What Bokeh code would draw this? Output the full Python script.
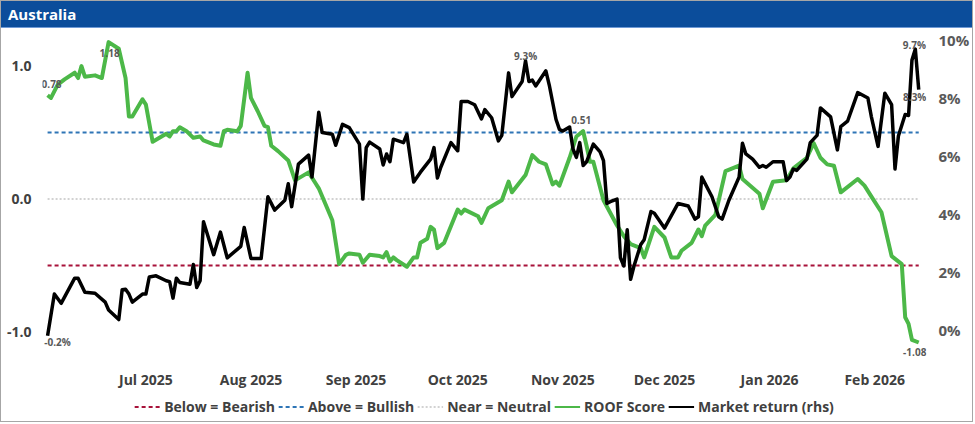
import pandas as pd
from bokeh.plotting import figure
from bokeh.models import (Range1d, LinearAxis, FixedTicker, PrintfTickFormatter,
                          DatetimeTickFormatter, Legend, LegendItem, ColumnDataSource,
                          Column, Div)
from bokeh.core.properties import value
from bokeh.embed import file_html
from bokeh.resources import INLINE

# ---------------- data ----------------
TITLE = "Australia"

roof_dates = [
    "2025-06-02", "2025-06-03", "2025-06-05", "2025-06-07", "2025-06-10", "2025-06-11",
    "2025-06-12", "2025-06-13", "2025-06-16", "2025-06-18", "2025-06-20", "2025-06-23",
    "2025-06-25", "2025-06-26", "2025-06-27", "2025-06-30", "2025-07-01", "2025-07-03",
    "2025-07-05", "2025-07-07", "2025-07-08", "2025-07-09", "2025-07-10", "2025-07-11",
    "2025-07-13", "2025-07-15", "2025-07-17", "2025-07-18", "2025-07-21", "2025-07-23",
    "2025-07-24", "2025-07-25", "2025-07-28", "2025-07-29", "2025-07-31", "2025-08-01",
    "2025-08-03", "2025-08-05", "2025-08-06", "2025-08-07", "2025-08-09", "2025-08-12",
    "2025-08-14", "2025-08-18", "2025-08-20", "2025-08-21", "2025-08-25", "2025-08-27",
    "2025-08-29", "2025-08-30", "2025-09-02", "2025-09-03", "2025-09-05", "2025-09-08",
    "2025-09-09", "2025-09-10", "2025-09-11", "2025-09-12", "2025-09-13", "2025-09-16",
    "2025-09-18", "2025-09-19", "2025-09-20", "2025-09-22", "2025-09-23", "2025-09-24",
    "2025-09-25", "2025-09-27", "2025-10-01", "2025-10-02", "2025-10-03", "2025-10-07",
    "2025-10-08", "2025-10-10", "2025-10-12", "2025-10-14", "2025-10-16", "2025-10-17",
    "2025-10-21", "2025-10-23", "2025-10-25", "2025-10-27", "2025-10-29", "2025-10-30",
    "2025-10-31", "2025-11-03", "2025-11-05", "2025-11-07", "2025-11-08", "2025-11-09",
    "2025-11-10", "2025-11-13", "2025-11-17", "2025-11-19", "2025-11-21", "2025-11-24",
    "2025-11-25", "2025-11-28", "2025-12-01", "2025-12-03", "2025-12-05", "2025-12-06",
    "2025-12-09", "2025-12-11", "2025-12-12", "2025-12-13", "2025-12-16", "2025-12-19",
    "2025-12-23", "2025-12-24", "2025-12-29", "2025-12-30", "2026-01-02", "2026-01-06",
    "2026-01-08", "2026-01-12", "2026-01-14", "2026-01-16", "2026-01-18", "2026-01-20",
    "2026-01-22", "2026-01-27", "2026-01-29", "2026-01-31", "2026-02-03", "2026-02-06",
    "2026-02-09", "2026-02-10", "2026-02-11", "2026-02-12", "2026-02-14",
]
roof_score = [
    0.78, 0.76, 0.86, 0.90, 0.95, 0.91,
    1.00, 0.92, 0.93, 0.91, 1.18, 1.13,
    0.91, 0.62, 0.62, 0.75, 0.71, 0.43,
    0.46, 0.49, 0.47, 0.51, 0.51, 0.54,
    0.51, 0.46, 0.47, 0.44, 0.41, 0.40,
    0.51, 0.52, 0.51, 0.55, 0.95, 0.76,
    0.66, 0.55, 0.54, 0.40, 0.36, 0.29,
    0.14, 0.20, 0.12, 0.08, -0.16, -0.49,
    -0.42, -0.41, -0.42, -0.48, -0.42, -0.43,
    -0.44, -0.40, -0.47, -0.44, -0.46, -0.51,
    -0.44, -0.44, -0.33, -0.30, -0.21, -0.23,
    -0.37, -0.33, -0.08, -0.11, -0.08, -0.13,
    -0.18, -0.07, -0.04, -0.01, 0.13, 0.05,
    0.18, 0.33, 0.28, 0.26, 0.11, 0.13,
    0.10, 0.31, 0.47, 0.51, 0.40, 0.28,
    0.28, -0.01, -0.20, -0.28, -0.34, -0.37,
    -0.44, -0.21, -0.29, -0.44, -0.44, -0.39,
    -0.33, -0.23, -0.28, -0.20, -0.12, 0.21,
    0.25, 0.15, 0.04, -0.07, 0.13, 0.14,
    0.23, 0.31, 0.42, 0.31, 0.26, 0.25,
    0.05, 0.15, 0.10, 0.02, -0.10, -0.43,
    -0.49, -0.89, -0.94, -1.06, -1.08,
]

mkt_dates = [
    "2025-06-02", "2025-06-04", "2025-06-06", "2025-06-10", "2025-06-11", "2025-06-13",
    "2025-06-16", "2025-06-19", "2025-06-20", "2025-06-23", "2025-06-24", "2025-06-25",
    "2025-06-26", "2025-06-27", "2025-06-30", "2025-07-01", "2025-07-02", "2025-07-04",
    "2025-07-07", "2025-07-08", "2025-07-09", "2025-07-10", "2025-07-11", "2025-07-14",
    "2025-07-15", "2025-07-16", "2025-07-17", "2025-07-18", "2025-07-21", "2025-07-23",
    "2025-07-25", "2025-07-29", "2025-07-30", "2025-08-01", "2025-08-04", "2025-08-06",
    "2025-08-08", "2025-08-11", "2025-08-12", "2025-08-13", "2025-08-15", "2025-08-18",
    "2025-08-19", "2025-08-21", "2025-08-22", "2025-08-25", "2025-08-26", "2025-08-28",
    "2025-08-30", "2025-09-02", "2025-09-03", "2025-09-04", "2025-09-05", "2025-09-08",
    "2025-09-09", "2025-09-10", "2025-09-11", "2025-09-12", "2025-09-15", "2025-09-16",
    "2025-09-18", "2025-09-20", "2025-09-23", "2025-09-24", "2025-09-25", "2025-09-26",
    "2025-09-29", "2025-10-01", "2025-10-02", "2025-10-04", "2025-10-06", "2025-10-08",
    "2025-10-09", "2025-10-11", "2025-10-13", "2025-10-14", "2025-10-16", "2025-10-17",
    "2025-10-20", "2025-10-21", "2025-10-22", "2025-10-23", "2025-10-24", "2025-10-27",
    "2025-10-28", "2025-10-30", "2025-10-31", "2025-11-01", "2025-11-03", "2025-11-04",
    "2025-11-05", "2025-11-06", "2025-11-07", "2025-11-08", "2025-11-10", "2025-11-12",
    "2025-11-13", "2025-11-14", "2025-11-15", "2025-11-17", "2025-11-18", "2025-11-19",
    "2025-11-20", "2025-11-21", "2025-11-22", "2025-11-24", "2025-11-25", "2025-11-27",
    "2025-11-28", "2025-12-01", "2025-12-05", "2025-12-08", "2025-12-10", "2025-12-11",
    "2025-12-12", "2025-12-15", "2025-12-17", "2025-12-18", "2025-12-20", "2025-12-23",
    "2025-12-24", "2025-12-25", "2025-12-27", "2025-12-29", "2025-12-30", "2025-12-31",
    "2026-01-02", "2026-01-05", "2026-01-06", "2026-01-07", "2026-01-08", "2026-01-09",
    "2026-01-12", "2026-01-13", "2026-01-15", "2026-01-16", "2026-01-19", "2026-01-21",
    "2026-01-22", "2026-01-24", "2026-01-27", "2026-01-30", "2026-01-31", "2026-02-02",
    "2026-02-04", "2026-02-06", "2026-02-07", "2026-02-08", "2026-02-10", "2026-02-11",
    "2026-02-12", "2026-02-13", "2026-02-14",
]
mkt_return = [
    -0.20, 1.24, 0.92, 1.79, 1.79, 1.30,
    1.27, 0.96, 0.69, 0.36, 1.39, 1.41,
    1.24, 0.96, 1.24, 1.24, 1.83, 1.87,
    1.70, 1.67, 1.10, 1.79, 1.64, 1.58,
    2.26, 1.47, 1.70, 3.74, 2.60, 3.38,
    2.49, 2.89, 3.54, 2.47, 2.47, 4.60,
    4.14, 4.48, 5.05, 4.26, 5.73, 6.04,
    5.28, 7.52, 6.82, 6.76, 6.38, 7.10,
    6.99, 6.42, 4.52, 6.30, 6.49, 6.25,
    5.70, 6.08, 5.81, 6.59, 6.47, 6.76,
    5.11, 5.45, 5.90, 6.30, 5.25, 5.62,
    6.47, 6.19, 7.89, 7.89, 7.78, 7.29,
    7.61, 7.33, 6.53, 6.72, 8.88, 8.06,
    8.58, 9.30, 8.58, 8.63, 8.43, 8.95,
    8.46, 7.27, 6.93, 6.87, 7.01, 6.25,
    5.96, 6.47, 5.68, 5.81, 6.42, 6.15,
    5.85, 4.37, 4.43, 4.52, 2.49, 2.21,
    3.46, 1.75, 2.21, 2.95, 3.12, 4.09,
    4.03, 3.52, 4.37, 4.28, 3.83, 3.91,
    5.28, 4.60, 3.91, 3.83, 4.48, 5.28,
    6.45, 6.08, 5.90, 5.62, 5.68, 5.62,
    5.81, 5.81, 5.16, 5.28, 5.56, 5.51,
    5.90, 6.47, 6.72, 7.67, 7.36, 6.22,
    7.02, 7.21, 8.20, 8.01, 7.38, 6.34,
    8.18, 7.78, 5.56, 6.70, 7.44, 7.41,
    9.32, 9.70, 8.30,
]

BEARISH_LEVEL = -0.5
BULLISH_LEVEL = 0.5
NEUTRAL_LEVEL = 0.0

legend_labels = ["Below = Bearish", "Above = Bullish", "Near = Neutral",
                 "ROOF Score", "Market return (rhs)"]

month_ticks = ["2025-07-01", "2025-08-01", "2025-09-01", "2025-10-01",
               "2025-11-01", "2025-12-01", "2026-01-01", "2026-02-01"]
left_ticks = [-1.0, 0.0, 1.0]
right_ticks = [0, 2, 4, 6, 8, 10]

# points that carry a data label
roof_callouts = ["2025-06-02", "2025-06-20", "2025-11-07", "2026-02-14"]
mkt_callouts = ["2025-06-02", "2025-10-21", "2026-02-13", "2026-02-14"]

# ---------------- styles ----------------
FONT = "Open Sans"
GREEN = "#4cb848"
BLUE = "#2e75b6"
RED = "#a8123a"
GREY_DOT = "#c4c4c4"
TXT = "#404040"
TXT2 = "#595959"
TITLE_BG = "#0b4d9b"

W = 971
H_TITLE = 27
H_MAIN = 363
H_LEG = 30

# ---------------- title bar ----------------
title_div = Div(
    text=(f'<div style="width:{W}px;background:{TITLE_BG};color:white;font-family:\'{FONT}\';'
          f'font-weight:bold;font-size:15px;height:{H_TITLE}px;line-height:{H_TITLE - 1}px;'
          f'padding-left:7px;border-bottom:1px solid #6f9ad6;box-sizing:border-box;">{TITLE}</div>'),
    width=W, height=H_TITLE, margin=0)

# ---------------- main chart ----------------
rd = pd.to_datetime(roof_dates)
md = pd.to_datetime(mkt_dates)

p = figure(width=W, height=H_MAIN, x_axis_type="datetime",
           x_range=Range1d(pd.Timestamp("2025-05-31 12:00"), pd.Timestamp("2026-02-16 07:00")),
           y_range=Range1d(-1.208, 1.245),
           toolbar_location=None, output_backend="svg",
           min_border_left=41, min_border_right=40, min_border_top=5, min_border_bottom=28,
           outline_line_color=None, background_fill_color="white", border_fill_color="white")
p.extra_y_ranges = {"ret": Range1d(-1.02, 10.24)}
p.add_layout(LinearAxis(y_range_name="ret"), "right")
p.grid.visible = False

for ax in p.axis:
    ax.axis_line_color = None
    ax.major_tick_line_color = None
    ax.minor_tick_line_color = None
    ax.major_label_text_font = FONT
    ax.major_label_text_font_style = "bold"

p.xaxis.ticker = FixedTicker(ticks=[pd.Timestamp(t).value / 1e6 for t in month_ticks])
fmt = "%b %Y"
p.xaxis.formatter = DatetimeTickFormatter(milliseconds=fmt, seconds=fmt, minsec=fmt, minutes=fmt,
                                          hourmin=fmt, hours=fmt, days=fmt, months=fmt, years=fmt)
p.xaxis.major_label_text_font_size = "14px"
p.xaxis.major_label_text_color = TXT
p.xaxis.major_label_standoff = 4

left = p.left[0]
left.ticker = FixedTicker(ticks=left_ticks)
left.formatter = PrintfTickFormatter(format="%.1f")
left.major_label_text_font_size = "14px"
left.major_label_text_color = TXT
left.major_label_standoff = 5

right = p.right[0]
right.ticker = FixedTicker(ticks=right_ticks)
right.formatter = PrintfTickFormatter(format="%d%%")
right.major_label_text_font_size = "15px"
right.major_label_text_color = TXT2
right.major_label_standoff = 6

span_x = [rd[0], rd[-1]]
p.line(span_x, [BEARISH_LEVEL] * 2, line_color=RED, line_width=2, line_dash="4 3")
p.line(span_x, [BULLISH_LEVEL] * 2, line_color=BLUE, line_width=2, line_dash="4 3")
p.line(span_x, [NEUTRAL_LEVEL] * 2, line_color=GREY_DOT, line_width=1.5, line_dash="2 2")

p.line(rd, roof_score, line_color=GREEN, line_width=4, line_join="round")
p.line(md, mkt_return, line_color="black", line_width=3.5, line_join="round", y_range_name="ret")

# data labels
roof_lookup = dict(zip(roof_dates, roof_score))
mkt_lookup = dict(zip(mkt_dates, mkt_return))
roof_src = ColumnDataSource(dict(
    x=pd.to_datetime(roof_callouts),
    y=[roof_lookup[d] for d in roof_callouts],
    t=[f"{roof_lookup[d]:.2f}" for d in roof_callouts],
    dx=[4, 1, -2, -4], dy=[-11, 11, -11, 10]))
mkt_src = ColumnDataSource(dict(
    x=pd.to_datetime(mkt_callouts),
    y=[mkt_lookup[d] for d in mkt_callouts],
    t=[f"{mkt_lookup[d]:.1f}%" for d in mkt_callouts],
    dx=[10, 0, -1, -4], dy=[6, -5, -4, 7]))
for src, rng in ((roof_src, "default"), (mkt_src, "ret")):
    p.text(x="x", y="y", text="t", x_offset="dx", y_offset="dy", source=src,
           text_font=value(FONT), text_font_size="10px", text_font_style="bold",
           text_color=TXT2, text_align="center", text_baseline="middle", y_range_name=rng)

# ---------------- legend row ----------------
lf = figure(width=W, height=H_LEG, x_range=Range1d(0, 1), y_range=Range1d(0, 1),
            x_axis_location=None, y_axis_location=None, toolbar_location=None,
            output_backend="svg", min_border=0, outline_line_color=None,
            background_fill_color="white", border_fill_color="white")
lf.grid.visible = False
off = ([-3, -2], [-3, -2])   # swatch-only renderers, kept outside the visible range
g_bear = lf.line(*off, line_color=RED, line_width=2, line_dash="4 3")
g_bull = lf.line(*off, line_color=BLUE, line_width=2, line_dash="4 3")
g_neut = lf.line(*off, line_color=GREY_DOT, line_width=1.5, line_dash="2 2")
g_roof = lf.line(*off, line_color=GREEN, line_width=2)
g_mkt = lf.line(*off, line_color="black", line_width=2)
legend = Legend(items=[
    LegendItem(label=legend_labels[0], renderers=[g_bear]),
    LegendItem(label=legend_labels[1], renderers=[g_bull]),
    LegendItem(label=legend_labels[2], renderers=[g_neut]),
    LegendItem(label=legend_labels[3], renderers=[g_roof]),
    LegendItem(label=legend_labels[4], renderers=[g_mkt]),
], orientation="horizontal", location="center", border_line_color=None,
    background_fill_alpha=0, label_text_font=FONT, label_text_font_size="14px",
    label_text_font_style="bold", label_text_color=TXT, glyph_width=26, glyph_height=16,
    label_height=16, label_standoff=4, spacing=3, padding=2, margin=0)
lf.add_layout(legend, "center")

layout = Column(title_div, p, lf, spacing=0,
                styles={"border": "1px solid #a6a6a6"})

open("out.html", "w").write(file_html(layout, INLINE))
